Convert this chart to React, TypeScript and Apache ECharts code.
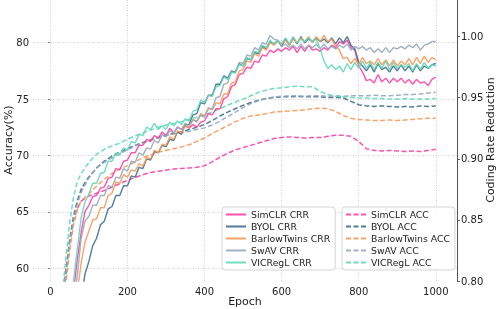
import React, { useEffect, useRef } from "react";
import * as echarts from "echarts";

const xTicks = [0, 200, 400, 600, 800, 1000];
const accTicks = [60, 65, 70, 75, 80];
const crrTicks = [0.8, 0.85, 0.9, 0.95, 1.0];

const accEpochs = [30, 40, 50, 60, 70, 80, 90, 100, 120, 140, 160, 180, 200, 220, 240, 260, 280, 300, 320, 340, 360, 380, 400, 420, 440, 460, 480, 500, 520, 540, 560, 580, 600, 620, 640, 660, 680, 700, 720, 740, 760, 780, 800, 820, 840, 860, 880, 900, 920, 940, 960, 980, 1000];

const simclrAcc = [55.5, 59.8, 62.3, 64.2, 65.3, 65.95, 66.2, 66.4, 66.65, 66.9, 67.2, 67.5, 67.8, 68.05, 68.3, 68.5, 68.6, 68.7, 68.8, 68.85, 68.9, 68.95, 69.1, 69.45, 69.85, 70.2, 70.5, 70.7, 70.9, 71.1, 71.3, 71.5, 71.6, 71.65, 71.6, 71.55, 71.6, 71.6, 71.7, 71.8, 71.8, 71.7, 71.25, 70.6, 70.45, 70.4, 70.45, 70.4, 70.35, 70.4, 70.35, 70.45, 70.55];
const byolAcc = [55.5, 59.5, 62.5, 64.6, 66.0, 67.0, 67.6, 68.1, 68.9, 69.5, 69.95, 70.3, 70.6, 70.9, 71.15, 71.4, 71.6, 71.8, 71.95, 72.1, 72.3, 72.5, 72.75, 73.1, 73.5, 73.85, 74.15, 74.45, 74.7, 74.9, 75.05, 75.15, 75.2, 75.2, 75.25, 75.2, 75.2, 75.2, 75.15, 75.15, 75.1, 74.8, 74.5, 74.4, 74.35, 74.4, 74.35, 74.3, 74.35, 74.3, 74.4, 74.35, 74.4];
const barlowAcc = [55, 58.5, 61.5, 63.8, 65.2, 66.0, 66.3, 66.6, 67.3, 67.9, 68.4, 68.8, 69.1, 69.45, 69.8, 70.05, 70.3, 70.45, 70.6, 70.75, 70.95, 71.25, 71.55, 71.95, 72.3, 72.65, 73.0, 73.3, 73.5, 73.6, 73.7, 73.85, 73.9, 73.95, 74.0, 74.05, 74.15, 74.2, 74.15, 73.9, 73.55, 73.3, 73.2, 73.15, 73.1, 73.1, 73.15, 73.1, 73.15, 73.2, 73.25, 73.3, 73.3];
const swavAcc = [55.5, 59.3, 62.2, 64.3, 65.7, 66.7, 67.4, 68.0, 68.9, 69.4, 69.8, 70.15, 70.5, 70.85, 71.1, 71.35, 71.55, 71.75, 71.9, 72.0, 72.15, 72.3, 72.45, 72.7, 73.05, 73.45, 73.85, 74.25, 74.6, 74.85, 75.05, 75.2, 75.25, 75.3, 75.3, 75.25, 75.3, 75.3, 75.25, 75.3, 75.25, 75.3, 75.3, 75.3, 75.35, 75.3, 75.3, 75.35, 75.4, 75.4, 75.45, 75.55, 75.6];
const vicreglAcc = [57.3, 60.8, 64.0, 66.3, 67.7, 68.4, 68.9, 69.4, 70.1, 70.55, 70.85, 71.1, 71.45, 71.75, 72.0, 72.25, 72.5, 72.7, 72.85, 73.0, 73.2, 73.4, 73.6, 73.85, 74.15, 74.45, 74.75, 75.0, 75.3, 75.6, 75.8, 75.95, 76.0, 76.1, 76.15, 76.1, 76.1, 75.7, 75.4, 75.25, 75.2, 75.15, 75.1, 75.1, 75.05, 75.05, 75.0, 75.0, 75.05, 75.0, 75.0, 75.0, 75.05];

const crrEpochs = [50, 60, 70, 80, 90, 100, 110, 120, 130, 140, 150, 160, 170, 180, 190, 200, 210, 220, 230, 240, 250, 260, 270, 280, 290, 300, 310, 320, 330, 340, 350, 360, 370, 380, 390, 400, 410, 420, 430, 440, 450, 460, 470, 480, 490, 500, 510, 520, 530, 540, 550, 560, 570, 580, 590, 600, 610, 620, 630, 640, 650, 660, 670, 680, 690, 700, 710, 720, 730, 740, 750, 760, 770, 780, 790, 800, 810, 820, 830, 840, 850, 860, 870, 880, 890, 900, 910, 920, 930, 940, 950, 960, 970, 980, 990, 1000];

const simclrCrr = [0.76, 0.79, 0.818, 0.84, 0.857, 0.862, 0.869, 0.87, 0.876, 0.877, 0.884, 0.885, 0.892, 0.891, 0.898, 0.899, 0.905, 0.905, 0.911, 0.911, 0.916, 0.914, 0.919, 0.917, 0.922, 0.919, 0.925, 0.921, 0.926, 0.924, 0.927, 0.925, 0.928, 0.926, 0.93, 0.931, 0.937, 0.936, 0.941, 0.941, 0.949, 0.951, 0.959, 0.961, 0.969, 0.97, 0.975, 0.974, 0.98, 0.979, 0.985, 0.984, 0.989, 0.987, 0.99, 0.988, 0.991, 0.989, 0.992, 0.987, 0.992, 0.988, 0.993, 0.989, 0.99, 0.988, 0.991, 0.989, 0.993, 0.991, 0.996, 0.994, 0.997, 0.991, 0.989, 0.976, 0.971, 0.964, 0.965, 0.962, 0.969, 0.963, 0.966, 0.962, 0.966, 0.963, 0.966, 0.962, 0.965, 0.961, 0.965, 0.962, 0.963, 0.96, 0.965, 0.967];
const byolCrr = [0.7, 0.73, 0.76, 0.785, 0.806, 0.816, 0.829, 0.835, 0.846, 0.849, 0.859, 0.861, 0.87, 0.87, 0.878, 0.878, 0.886, 0.885, 0.893, 0.892, 0.9, 0.899, 0.906, 0.905, 0.911, 0.91, 0.916, 0.915, 0.922, 0.92, 0.928, 0.928, 0.936, 0.937, 0.946, 0.945, 0.952, 0.952, 0.961, 0.961, 0.968, 0.966, 0.972, 0.971, 0.978, 0.976, 0.982, 0.981, 0.987, 0.986, 0.992, 0.99, 0.996, 0.994, 0.997, 0.992, 0.998, 0.993, 0.999, 0.994, 1.0, 0.995, 0.998, 0.996, 0.999, 0.996, 0.998, 0.995, 0.999, 0.994, 0.999, 0.995, 1.0, 0.993, 0.99, 0.979, 0.976, 0.972, 0.977, 0.971, 0.978, 0.973, 0.975, 0.971, 0.976, 0.972, 0.977, 0.972, 0.976, 0.971, 0.977, 0.972, 0.976, 0.974, 0.977, 0.978];
const barlowCrr = [0.7, 0.745, 0.79, 0.815, 0.832, 0.841, 0.85, 0.851, 0.86, 0.86, 0.87, 0.872, 0.881, 0.88, 0.887, 0.885, 0.891, 0.89, 0.896, 0.894, 0.901, 0.9, 0.907, 0.905, 0.912, 0.911, 0.918, 0.916, 0.923, 0.921, 0.927, 0.926, 0.932, 0.931, 0.937, 0.935, 0.942, 0.94, 0.946, 0.945, 0.953, 0.953, 0.962, 0.963, 0.972, 0.973, 0.98, 0.979, 0.986, 0.984, 0.991, 0.989, 0.995, 0.993, 0.996, 0.994, 0.997, 0.993, 0.998, 0.995, 0.999, 0.996, 1.0, 0.995, 1.0, 0.996, 1.001, 0.996, 0.998, 0.992, 0.989, 0.982, 0.983, 0.978, 0.982, 0.977, 0.983, 0.978, 0.98, 0.977, 0.982, 0.977, 0.981, 0.976, 0.981, 0.976, 0.98, 0.977, 0.982, 0.977, 0.983, 0.978, 0.984, 0.979, 0.983, 0.981];
const swavCrr = [0.74, 0.775, 0.805, 0.835, 0.849, 0.853, 0.862, 0.862, 0.87, 0.87, 0.878, 0.877, 0.885, 0.884, 0.892, 0.89, 0.898, 0.897, 0.905, 0.903, 0.909, 0.908, 0.915, 0.913, 0.92, 0.918, 0.923, 0.921, 0.926, 0.924, 0.929, 0.927, 0.932, 0.93, 0.936, 0.934, 0.941, 0.941, 0.95, 0.951, 0.961, 0.962, 0.971, 0.971, 0.979, 0.978, 0.985, 0.984, 0.991, 0.989, 0.995, 0.994, 1.001, 0.998, 0.997, 0.992, 0.994, 0.991, 0.993, 0.99, 0.994, 0.99, 0.993, 0.991, 0.994, 0.99, 0.994, 0.99, 0.992, 0.99, 0.993, 0.991, 0.994, 0.989, 0.992, 0.99, 0.992, 0.989, 0.991, 0.987, 0.99, 0.987, 0.991, 0.987, 0.991, 0.99, 0.992, 0.99, 0.993, 0.991, 0.994, 0.989, 0.993, 0.994, 0.996, 0.996];
const vicreglCrr = [0.76, 0.8, 0.826, 0.852, 0.865, 0.871, 0.88, 0.88, 0.888, 0.889, 0.898, 0.898, 0.905, 0.903, 0.909, 0.907, 0.914, 0.913, 0.92, 0.919, 0.926, 0.924, 0.929, 0.924, 0.927, 0.924, 0.93, 0.927, 0.931, 0.928, 0.933, 0.931, 0.939, 0.94, 0.948, 0.946, 0.952, 0.951, 0.959, 0.96, 0.967, 0.965, 0.971, 0.97, 0.977, 0.976, 0.983, 0.981, 0.988, 0.987, 0.993, 0.991, 0.997, 0.994, 0.997, 0.994, 0.999, 0.994, 1.0, 0.995, 0.998, 0.996, 0.999, 0.996, 0.998, 0.99, 0.98, 0.974, 0.977, 0.973, 0.976, 0.971, 0.978, 0.973, 0.979, 0.974, 0.98, 0.974, 0.979, 0.973, 0.979, 0.974, 0.98, 0.973, 0.979, 0.974, 0.977, 0.975, 0.978, 0.972, 0.978, 0.973, 0.979, 0.974, 0.977, 0.976];

const methods = ["SimCLR", "BYOL", "BarlowTwins", "SwAV", "VICRegL"];
const colors = ["#ff3fa4", "#3f6e8e", "#f7995a", "#97a9bd", "#62d9b8"];
const accData = [simclrAcc, byolAcc, barlowAcc, swavAcc, vicreglAcc];
const crrData = [simclrCrr, byolCrr, barlowCrr, swavCrr, vicreglCrr];

const xTitle = "Epoch";
const leftTitle = "Accuracy(%)";
const rightTitle = "Coding Rate Reduction";

const FONT = "DejaVu Sans";

export default function App() {
  const ref = useRef<HTMLDivElement>(null);
  useEffect(() => {
    if (!ref.current) return;
    const chart = echarts.init(ref.current, null, { renderer: "svg" });
    const accSeries = methods.map((m, k) => ({
      name: m + " ACC",
      type: "line",
      xAxisIndex: 0,
      yAxisIndex: 0,
      showSymbol: false,
      symbol: "none",
      clip: true,
      data: accEpochs.map((e, i) => [e, accData[k][i]]),
      lineStyle: { color: colors[k], width: 1.5, type: [5, 2.5], opacity: 0.9 },
      itemStyle: { color: colors[k] },
    }));
    const crrSeries = methods.map((m, k) => ({
      name: m + " CRR",
      type: "line",
      xAxisIndex: 0,
      yAxisIndex: 1,
      showSymbol: false,
      symbol: "none",
      clip: true,
      data: crrEpochs.map((e, i) => [e, crrData[k][i]]),
      lineStyle: { color: colors[k], width: 1.4, opacity: 0.9 },
      itemStyle: { color: colors[k] },
    }));
    const legendCommon = {
      orient: "vertical",
      itemWidth: 20,
      itemHeight: 11,
      itemGap: 3,
      padding: [3, 5, 3, 3],
      borderColor: "#d4d4d4",
      borderWidth: 1,
      borderRadius: 3,
      backgroundColor: "rgba(255,255,255,0.85)",
      itemStyle: { opacity: 0 },
      textStyle: { fontFamily: FONT, fontSize: 9.3, color: "#222" },
    };
    const titleStyle = { fontFamily: FONT, fontSize: 11, fill: "#222", textAlign: "center", textVerticalAlign: "middle" };
    chart.setOption({
      animation: false,
      textStyle: { fontFamily: FONT },
      grid: { left: 33, right: 41, top: 0, bottom: 28, containLabel: false, outerBoundsMode: "none" },
      graphic: [
        { type: "text", x: 245, y: 301, style: { ...titleStyle, text: xTitle } },
        { type: "text", x: 8, y: 140, rotation: Math.PI / 2, style: { ...titleStyle, text: leftTitle } },
        { type: "text", x: 490, y: 140, rotation: Math.PI / 2, style: { ...titleStyle, text: rightTitle } },
      ],
      xAxis: {
        type: "value",
        min: -45,
        max: 1055,
        axisLine: { show: false },
        axisTick: { show: false, customValues: xTicks },
        axisLabel: {
          customValues: xTicks,
          fontFamily: FONT,
          fontSize: 10,
          color: "#222",
          margin: 5,
          formatter: (v: number) => String(v),
        },
        splitLine: { show: true, lineStyle: { color: "#c8c8c8", type: [1, 1.5], width: 0.8 } },
      },
      yAxis: [
        {
          type: "value",
          position: "left",
          min: 58.87,
          max: 83.79,
          axisLine: { show: false },
          axisTick: { show: true, length: 2.5, customValues: accTicks, lineStyle: { color: "#888" } },
          axisLabel: {
            customValues: accTicks,
            fontFamily: FONT,
            fontSize: 10,
            color: "#222",
            margin: 4,
            formatter: (v: number) => String(v),
          },
          splitLine: { show: true, lineStyle: { color: "#c8c8c8", type: [1, 1.5], width: 0.8 } },
        },
        {
          type: "value",
          position: "right",
          min: 0.8,
          max: 1.03,
          axisLine: { show: true, onZero: false, lineStyle: { color: "#555", width: 1 } },
          axisTick: { show: true, length: 3, customValues: crrTicks, lineStyle: { color: "#555" } },
          axisLabel: {
            customValues: crrTicks,
            fontFamily: FONT,
            fontSize: 10,
            color: "#222",
            margin: 4,
            formatter: (v: number) => v.toFixed(2),
          },
          splitLine: { show: false },
        },
      ],
      legend: [
        { ...legendCommon, left: 222, top: 207, data: methods.map((m) => m + " CRR") },
        { ...legendCommon, left: 342, top: 207, data: methods.map((m) => m + " ACC") },
      ],
      series: [...accSeries, ...crrSeries],
    });
    return () => chart.dispose();
  }, []);
  return <div ref={ref} style={{ position: "fixed", left: 0, top: 0, width: 498, height: 309 }} />;
}
